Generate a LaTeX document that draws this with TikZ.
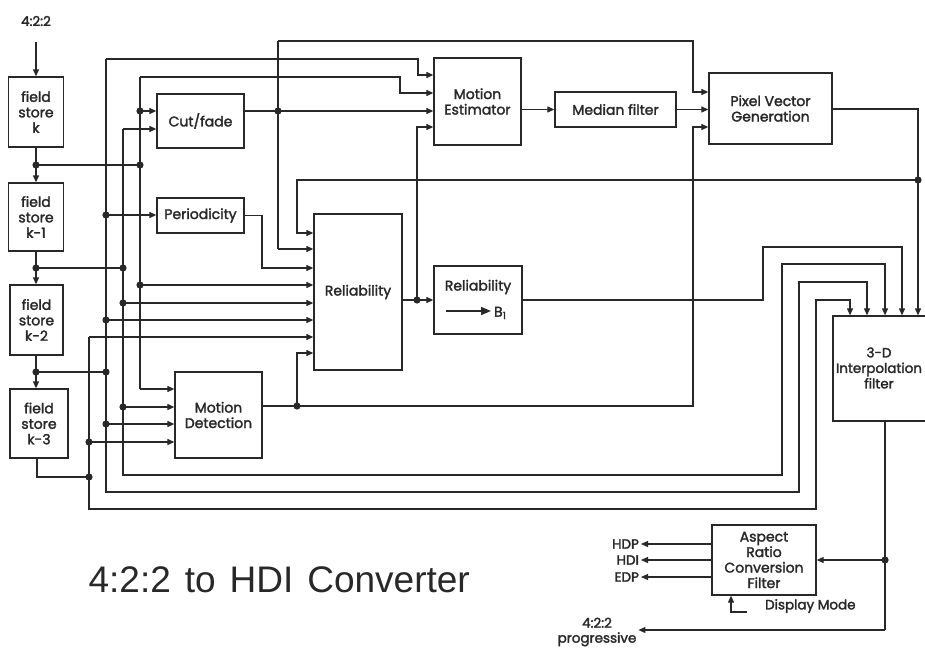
\documentclass[tikz,border=0pt]{standalone}
\usepackage{fontspec}
\setmainfont{Poppins}
\newfontfamily\boxfont{Poppins}[FakeBold=2]
\newfontfamily\titlefont{Liberation Sans}
\usetikzlibrary{arrows.meta,calc}
\definecolor{ink}{RGB}{40,40,40}
\begin{document}
\begin{tikzpicture}[x=1pt,y=-1pt,color=ink,line width=1.2pt,
  box/.style={draw,line width=1.3pt,inner sep=0pt,align=center,
    font=\boxfont\fontsize{14}{15.5}\selectfont},
  lbl/.style={inner sep=1.5pt,align=center,font=\boxfont\fontsize{13.5}{15}\selectfont},
  arr/.style={-{Triangle[length=7pt,width=6pt]}}]
\useasboundingbox (0,0) rectangle (925,647);
\fill[white] (0,0) rectangle (925,647);

% ---------- boxes ----------
\node[box,minimum width=55pt,minimum height=70pt] (fsk)  at (36,112)   {field\\store\\k};
\node[box,minimum width=55pt,minimum height=68pt] (fsk1) at (36,217)   {field\\store\\k-1};
\node[box,minimum width=53pt,minimum height=70pt] (fsk2) at (36.5,320) {field\\store\\k-2};
\node[box,minimum width=58pt,minimum height=69pt] (fsk3) at (39,423.5) {field\\store\\k-3};
\node[box,minimum width=87pt,minimum height=54pt] (cf)   at (200.5,121) {Cut/fade};
\node[box,minimum width=87pt,minimum height=35pt] (per)  at (200.5,215.5) {Periodicity};
\node[box,minimum width=87pt,minimum height=87pt] (me)   at (477.5,101.5) {Motion\\Estimator};
\node[box,minimum width=121pt,minimum height=35pt] (med) at (615.5,109.5) {Median filter};
\node[box,minimum width=123pt,minimum height=71pt] (pvg) at (770.5,108.5) {Pixel Vector\\Generation};
\node[box,minimum width=88pt,minimum height=156pt] (rel) at (358,292) {Reliability};
\node[box,minimum width=88pt,minimum height=68pt] (relb) at (478,300) {};
\node[box,minimum width=87pt,minimum height=86pt] (md)   at (218.5,415) {Motion\\Detection};
\node[box,minimum width=104pt,minimum height=105pt] (tdf) at (885,368.5) {};
\node[box,minimum width=104pt,minimum height=70pt] (arc) at (764,560) {Aspect\\Ratio\\Conversion\\Filter};

% text inside boxes placed off-centre
\node[lbl,font=\boxfont\fontsize{13.5}{15.5}\selectfont] (tdft) at (879,368) {3-D\\Interpolation\\filter};
\node[lbl,font=\boxfont\fontsize{14}{15}\selectfont] (relbt) at (478,287) {Reliability};
\coordinate (rba) at (446,311);
\coordinate (rbb) at (491,311);
\draw[line width=1.6pt,-{Triangle[length=10pt,width=8pt]}] (rba) -- (rbb);
\node[lbl,anchor=west,font=\boxfont\fontsize{14}{15}\selectfont] (relbB) at (492,313) {B{\fontsize{10}{10}\selectfont\raisebox{-2.5pt}{1}}};

% ---------- labels ----------
\node[lbl] (in) at (36,21) {4:2:2};
\node[lbl,anchor=east] (hdp) at (641,544) {HDP};
\node[lbl,anchor=east] (hdi) at (641,560) {HDI};
\node[lbl,anchor=east] (edp) at (641,577) {EDP};
\node[lbl] (prog) at (597,632) {4:2:2\\progressive};
\node[lbl,anchor=west] (dm) at (763,606) {Display Mode};
\node[anchor=base west,inner sep=0pt,font=\titlefont\fontsize{37}{40}\selectfont,
  color=ink] (title) at (88,592) {4:2:2\hspace{0.1em} to\hspace{0.1em} HDI\hspace{0.1em} Converter};

% ---------- coordinates ----------
\coordinate (ins) at (36,42);
\coordinate (d0) at (36,165);
\coordinate (d1) at (36,268);
\coordinate (d2) at (36,372);
\coordinate (c3) at (37,477);
\coordinate (j140k) at (140,165);
\coordinate (j123k) at (123,268);
\coordinate (j106k) at (106,372);
\coordinate (j89k)  at (89,477);

\coordinate (b140t) at (140,77);
\coordinate (j140cf) at (140,111);
\coordinate (j140r) at (140,285);
\coordinate (b140b) at (140,389);
\coordinate (me2k) at (400,93);

\coordinate (b106t) at (106,59);
\coordinate (me1k) at (418,75);
\coordinate (j106p) at (106,215);
\coordinate (j106r) at (106,320);
\coordinate (j106md) at (106,424);
\coordinate (b106b) at (106,492);
\coordinate (t3b) at (799,282);
\coordinate (t3bk) at (867,282);

\coordinate (b123t) at (123,129);
\coordinate (j123r) at (123,303);
\coordinate (j123md) at (123,407);
\coordinate (b123b) at (123,475);
\coordinate (t3a) at (782,264);
\coordinate (t3ak) at (885,264);

\coordinate (b89t) at (89,337);
\coordinate (j89md) at (89,442);
\coordinate (b89b) at (89,509);
\coordinate (t3c) at (816,300);
\coordinate (t3ck) at (850,300);

\coordinate (j278) at (278,111);
\coordinate (b278t) at (278,41);
\coordinate (b278b) at (278,249);
\coordinate (pvg1k) at (693,92);

\coordinate (perk) at (262,268);
\coordinate (j918) at (918,180);
\coordinate (rel1k) at (297,233);
\coordinate (pvgk) at (918,109);

\coordinate (j417) at (417,300);
\coordinate (me4k) at (417,127);
\coordinate (rbk1) at (763,300);
\coordinate (rbk2) at (902,247);

\coordinate (j297) at (297,406);
\coordinate (mdk) at (693,406);
\coordinate (pvg3k) at (693,127);
\coordinate (rel8k) at (297,353);

\coordinate (j885) at (885,560);
\coordinate (prk) at (885,630);
\coordinate (dmk) at (747,612);
\coordinate (dmk2) at (731,612);

% ---------- field store chain ----------
\draw[arr] (ins) -- (fsk.north);
\draw (fsk.south) -- (d0);
\draw[arr] (d0) -- (fsk1.north);
\draw (d0) -- (j140k);
\draw (fsk1.south) -- (d1);
\draw[arr] (d1) -- (d1 |- fsk2.north);
\draw (d1) -- (j123k);
\draw (d2 |- fsk2.south) -- (d2);
\draw[arr] (d2) -- (d2 |- fsk3.north);
\draw (d2) -- (j106k);
\draw (c3 |- fsk3.south) -- (c3) -- (j89k);

% ---------- bus x=140 ----------
\draw (b140t) -- (b140b);
\draw[arr] (b140b) -- (b140b -| md.west);
\draw[arr] (j140cf) -- (j140cf -| cf.west);
\draw[arr] (j140r) -- (j140r -| rel.west);
\draw[arr] (b140t) -| (me2k) -- (me2k -| me.west);

% ---------- bus x=106 ----------
\draw[arr] (b106t) -| (me1k) -- (me1k -| me.west);
\draw[arr] (b106t) -- (b106b) -| (t3b) -- (t3bk) -- (t3bk |- tdf.north);
\draw[arr] (j106p) -- (j106p -| per.west);
\draw[arr] (j106r) -- (j106r -| rel.west);
\draw[arr] (j106md) -- (j106md -| md.west);

% ---------- bus x=123 ----------
\draw[arr] (b123t) -- (b123t -| cf.west);
\draw[arr] (b123t) -- (b123b) -| (t3a) -- (t3ak) -- (t3ak |- tdf.north);
\draw[arr] (j123r) -- (j123r -| rel.west);
\draw[arr] (j123md) -- (j123md -| md.west);

% ---------- bus x=89 ----------
\draw[arr] (b89t) -- (b89t -| rel.west);
\draw[arr] (b89t) -- (b89b) -| (t3c) -- (t3ck) -- (t3ck |- tdf.north);
\draw[arr] (j89md) -- (j89md -| md.west);

% ---------- cut/fade output ----------
\draw[arr] (cf.east |- j278) -- (j278 -| me.west);
\draw (b278t) -- (b278b);
\draw[arr] (b278b) -- (b278b -| rel.west);
\draw[arr] (b278t) -| (pvg1k) -- (pvg1k -| pvg.west);

% ---------- periodicity output ----------
\draw[arr] (per.east) -| (perk) -- (perk -| rel.west);

% ---------- motion estimator chain ----------
\draw[arr] (me.east |- med.west) -- (med.west);
\draw[arr] (med.east) -- (med.east -| pvg.west);
\draw[arr] (pvg.east |- pvgk) -- (pvgk) -- (pvgk |- tdf.north);
\draw[arr] (j918) -| (rel1k) -- (rel1k -| rel.west);

% ---------- reliability ----------
\draw[arr] (rel.east |- relb.west) -- (relb.west);
\draw[arr] (j417) -- (me4k) -- (me4k -| me.west);
\draw[arr] (relb.east) -- (rbk1) |- (rbk2) -- (rbk2 |- tdf.north);

% ---------- motion detection ----------
\draw[arr] (md.east |- j297) -- (mdk) -- (pvg3k) -- (pvg3k -| pvg.west);
\draw[arr] (j297) -- (rel8k) -- (rel8k -| rel.west);

% ---------- outputs ----------
\draw (tdf.south) -- (prk);
\draw[arr] (j885) -- (arc.east);
\draw[arr] (prk) -- (prk -| prog.east);
\draw[arr] (arc.west |- hdp) -- (hdp.east);
\draw[arr] (arc.west |- hdi) -- (hdi.east);
\draw[arr] (arc.west |- edp) -- (edp.east);
\draw[arr] (dmk) -- (dmk2) -- (dmk2 |- arc.south);

% ---------- junction dots ----------
\foreach \c in {d0,d1,d2,j140k,j123k,j106k,j89k,j140cf,j140r,j106p,j106r,j106md,
  j123r,j123md,j89md,j278,j417,j297,j918,j885}
  \fill (\c) circle (3.6pt);
\end{tikzpicture}
\end{document}
